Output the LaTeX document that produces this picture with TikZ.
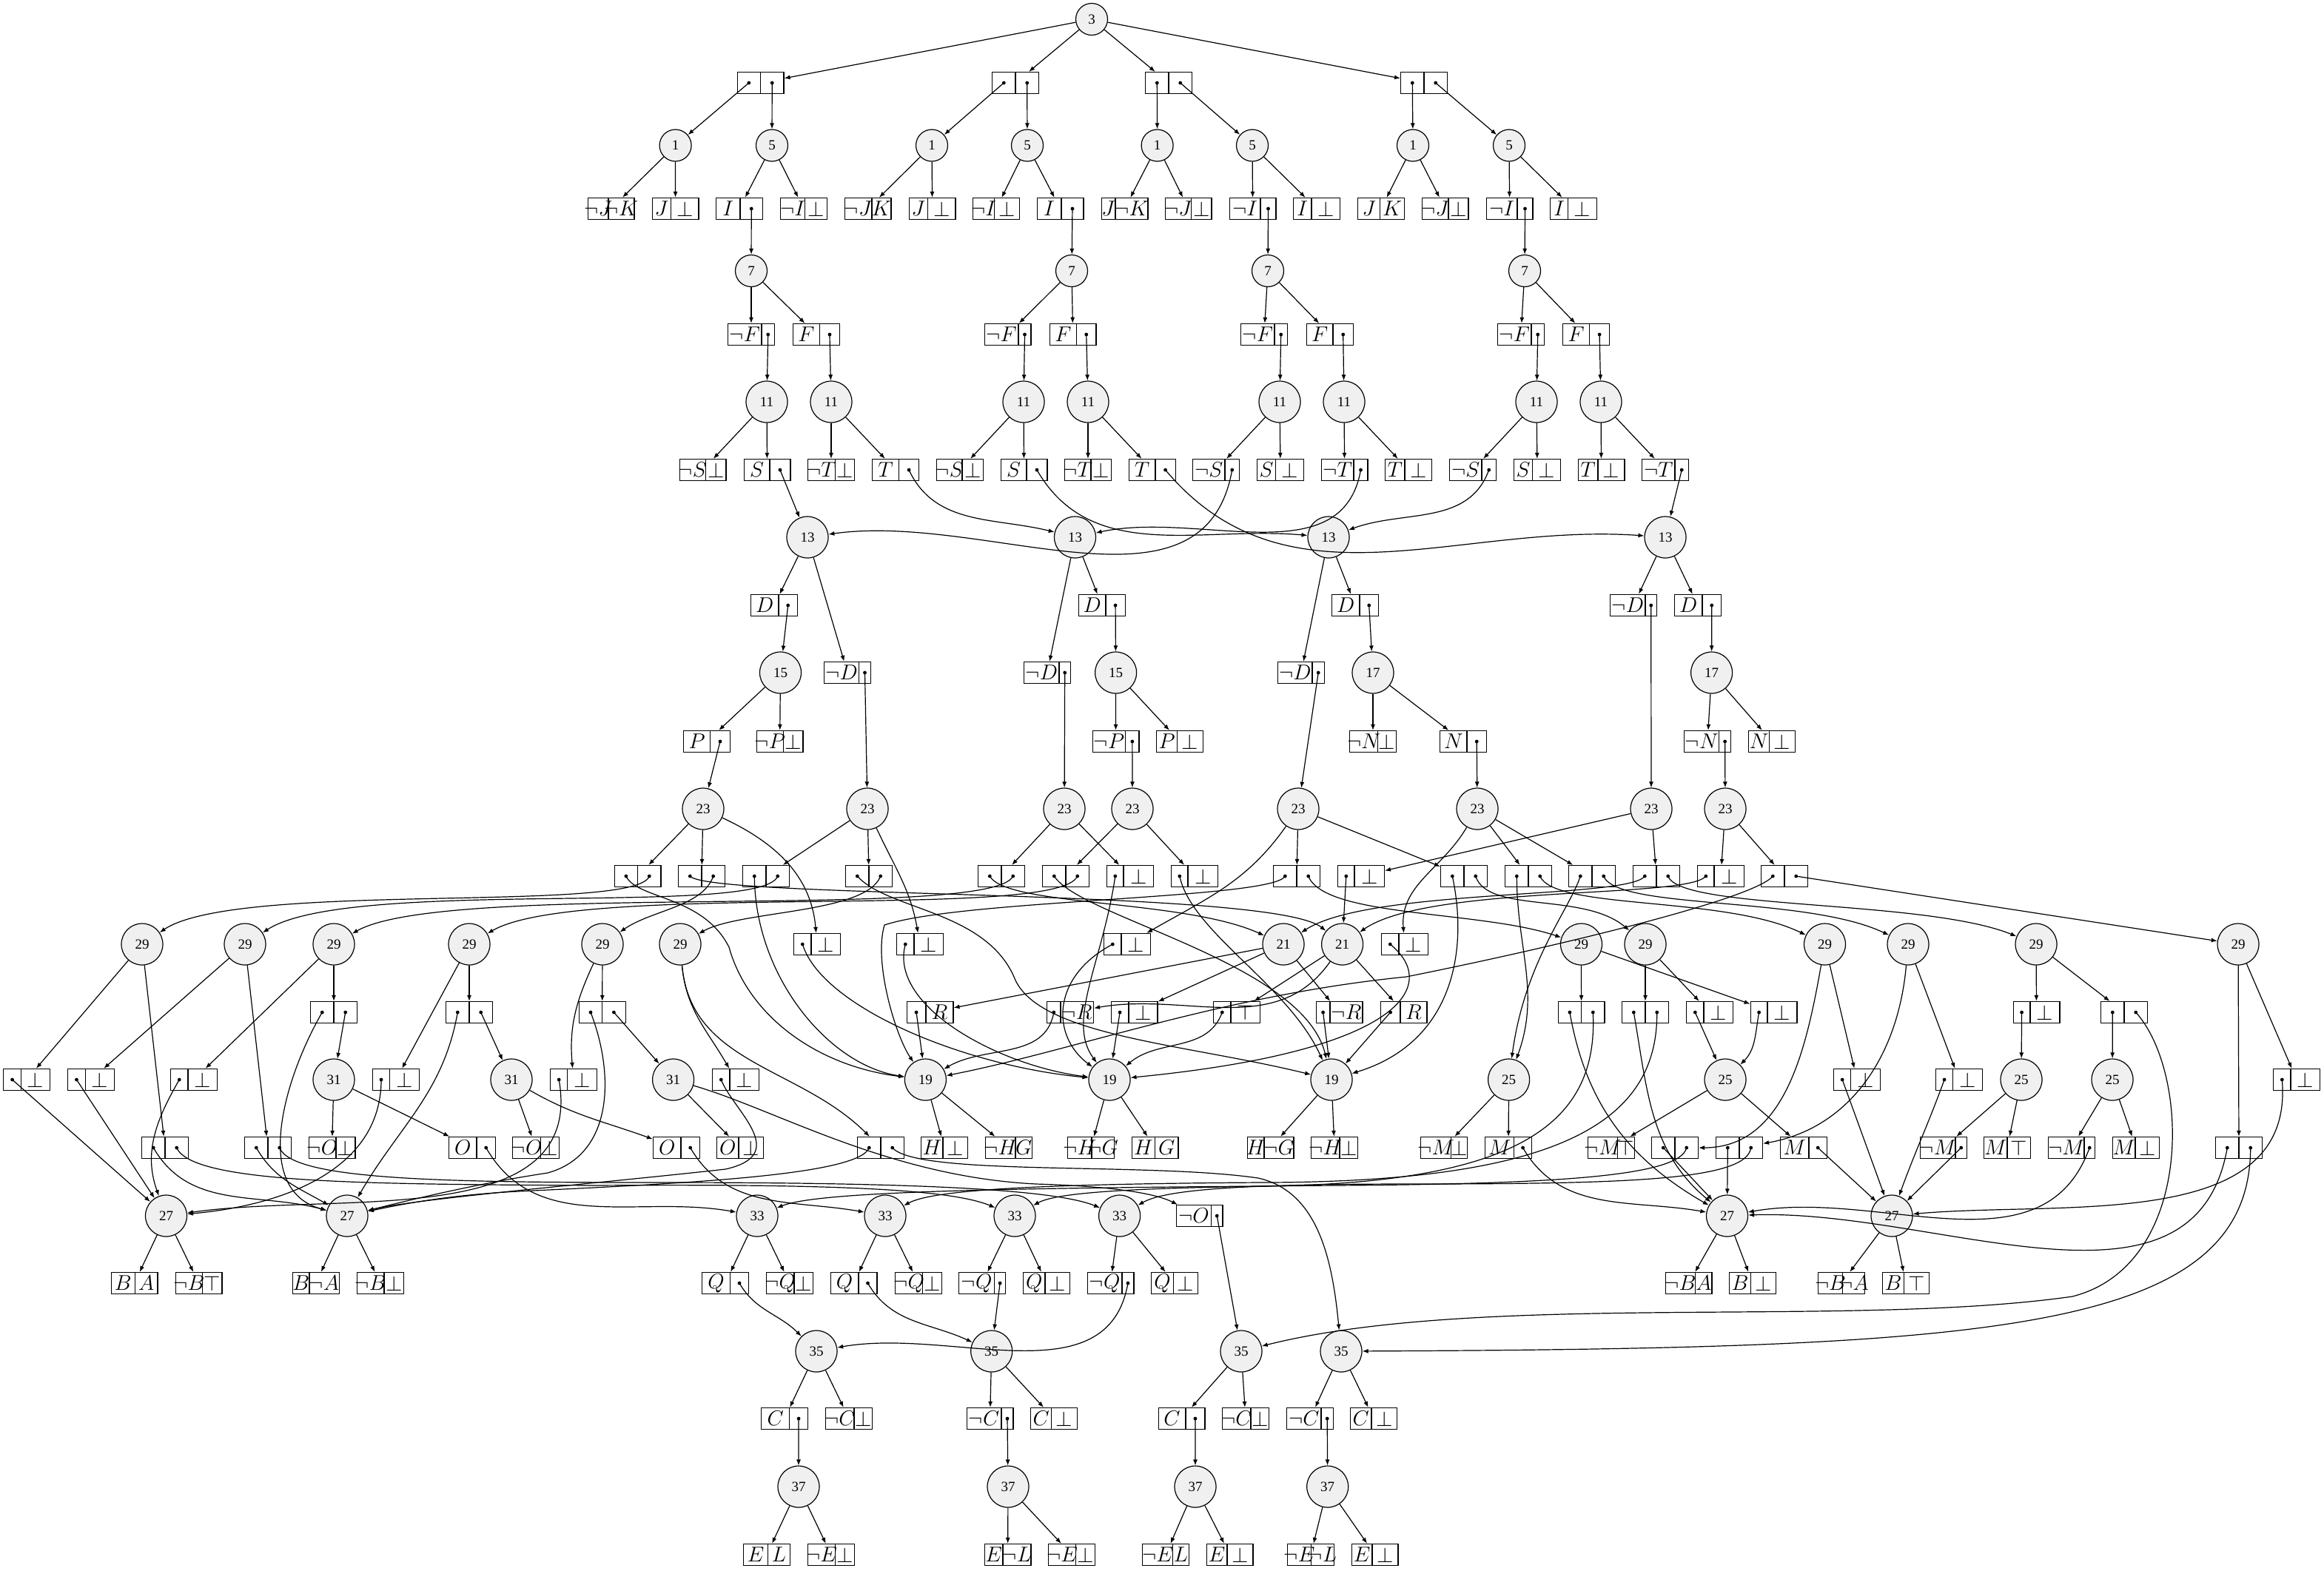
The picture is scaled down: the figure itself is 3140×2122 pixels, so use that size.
\documentclass[tikz,border=0pt]{standalone}
\usepackage{fontspec}
\setmainfont{Liberation Serif}
\usepackage{tikz}
\usetikzlibrary{arrows.meta}
\definecolor{nodegrey}{rgb}{0.94,0.94,0.94}
\newcommand{\dt}{\tikz\fill (0,0) circle (1.2pt);}
% record box: name, x, y, divider x, left cell, right cell
\newcommand{\recbox}[6]{%
  \node[rec] (#1) at (#2,#3) {};
  \draw (#4,#3-14.5) -- (#4,#3+14.5);
  \coordinate (#1-l) at ({(#2-31.4+#4)/2},#3);
  \coordinate (#1-r) at ({(#4+#2+31.4)/2},#3);
  \node[lab] at (#1-l) {#5};
  \node[lab] at (#1-r) {#6};
}

\begin{document}
\begin{tikzpicture}[x=0.5pt, y=-0.5pt, line width=0.6pt,
    vnode/.style={circle, draw, fill=nodegrey, minimum size=21.5pt, inner sep=0pt, font=\fontsize{9.5}{10}\selectfont},
    wnode/.style={vnode, minimum size=28pt},
    rec/.style={rectangle, draw, minimum width=31.4pt, minimum height=14.5pt, inner sep=0pt},
    lab/.style={inner sep=0pt, font=\fontsize{14}{14}\selectfont},
    arrow/.style={-{Latex[length=4pt,width=3pt]}}
]
\useasboundingbox (0,0) rectangle (3140,2122);

\node[vnode] (n3) at (1475,26) {3};

\recbox{p1}{1027.5}{112}{1027.5}{\dt}{\dt}
\recbox{p2}{1372}{112}{1372}{\dt}{\dt}
\recbox{p3}{1579}{112}{1579}{\dt}{\dt}
\recbox{p4}{1924}{112}{1924}{\dt}{\dt}

\draw[arrow] (n3) -- (p1);
\draw[arrow] (n3) -- (p2);
\draw[arrow] (n3) -- (p3);
\draw[arrow] (n3) -- (p4);

\node[vnode] (v1a) at (912.6,196.5) {1};
\node[vnode] (v5a) at (1043,196.5) {5};
\node[vnode] (v1b) at (1259,196.5) {1};
\node[vnode] (v5b) at (1388,196.5) {5};
\node[vnode] (v1c) at (1563.6,196.5) {1};
\node[vnode] (v5c) at (1692,196.5) {5};
\node[vnode] (v1d) at (1909,196.5) {1};
\node[vnode] (v5d) at (2039,196.5) {5};

\draw[arrow] (p1-l) -- (v1a);
\draw[arrow] (p1-r) -- (v5a);
\draw[arrow] (p2-l) -- (v1b);
\draw[arrow] (p2-r) -- (v5b);
\draw[arrow] (p3-l) -- (v1c);
\draw[arrow] (p3-r) -- (v5c);
\draw[arrow] (p4-l) -- (v1d);
\draw[arrow] (p4-r) -- (v5d);

\recbox{a1}{825.6}{282}{822}{$\neg J$}{$\neg K$}
\recbox{a2}{912.5}{282}{906.5}{$J$}{$\bot$}
\recbox{a3}{999}{282}{1000}{$I$}{\dt}
\recbox{a4}{1086}{282}{1087.6}{$\neg I$}{$\bot$}
\recbox{a5}{1172.6}{282}{1178}{$\neg J$}{$K$}
\recbox{a6}{1259.6}{282}{1253.5}{$J$}{$\bot$}
\recbox{a7}{1346}{282}{1343.8}{$\neg I$}{$\bot$}
\recbox{a8}{1432.5}{282}{1434}{$I$}{\dt}
\recbox{a9}{1519.6}{282}{1507}{$J$}{$\neg K$}
\recbox{a10}{1605.6}{282}{1609.5}{$\neg J$}{$\bot$}
\recbox{a11}{1692.6}{282}{1703}{$\neg I$}{\dt}
\recbox{a12}{1779}{282}{1772}{$I$}{$\bot$}
\recbox{a13}{1866}{282}{1864.6}{$J$}{$K$}
\recbox{a14}{1952.6}{282}{1957}{$\neg J$}{$\bot$}
\recbox{a15}{2039.6}{282}{2050}{$\neg I$}{\dt}
\recbox{a16}{2126}{282}{2118.7}{$I$}{$\bot$}

\draw[arrow] (v1a) -- (a1);
\draw[arrow] (v1a) -- (a2);
\draw[arrow] (v5a) -- (a3);
\draw[arrow] (v5a) -- (a4);
\draw[arrow] (v1b) -- (a5);
\draw[arrow] (v1b) -- (a6);
\draw[arrow] (v5b) -- (a7);
\draw[arrow] (v5b) -- (a8);
\draw[arrow] (v1c) -- (a9);
\draw[arrow] (v1c) -- (a10);
\draw[arrow] (v5c) -- (a11);
\draw[arrow] (v5c) -- (a12);
\draw[arrow] (v1d) -- (a13);
\draw[arrow] (v1d) -- (a14);
\draw[arrow] (v5d) -- (a15);
\draw[arrow] (v5d) -- (a16);

\node[vnode] (v7a) at (1015,366) {7};
\node[vnode] (v7b) at (1448,366) {7};
\node[vnode] (v7c) at (1713,366) {7};
\node[vnode] (v7d) at (2060,366) {7};

\draw[arrow] (a3-r) -- (v7a);
\draw[arrow] (a8-r) -- (v7b);
\draw[arrow] (a11-r) -- (v7c);
\draw[arrow] (a15-r) -- (v7d);

\recbox{f1}{1015}{452}{1029}{$\neg F$}{\dt}
\recbox{f2}{1103}{452}{1107.5}{$F$}{\dt}
\recbox{f3}{1361.6}{452}{1376}{$\neg F$}{\dt}
\recbox{f4}{1449.6}{452}{1454.5}{$F$}{\dt}
\recbox{f5}{1708}{452}{1722}{$\neg F$}{\dt}
\recbox{f6}{1797}{452}{1801}{$F$}{\dt}
\recbox{f7}{2055}{452}{2069}{$\neg F$}{\dt}
\recbox{f8}{2143}{452}{2147.8}{$F$}{\dt}

\draw[arrow] (v7a) -- (f1);
\draw[arrow] (v7a) -- (f2);
\draw[arrow] (v7b) -- (f3);
\draw[arrow] (v7b) -- (f4);
\draw[arrow] (v7c) -- (f5);
\draw[arrow] (v7c) -- (f6);
\draw[arrow] (v7d) -- (f7);
\draw[arrow] (v7d) -- (f8);

\node[wnode] (v11a) at (1036,543) {11};
\node[wnode] (v11b) at (1123,543) {11};
\node[wnode] (v11c) at (1383,543) {11};
\node[wnode] (v11d) at (1470,543) {11};
\node[wnode] (v11e) at (1729,543) {11};
\node[wnode] (v11f) at (1816,543) {11};
\node[wnode] (v11g) at (2076,543) {11};
\node[wnode] (v11h) at (2163,543) {11};

\draw[arrow] (f1-r) -- (v11a);
\draw[arrow] (f2-r) -- (v11b);
\draw[arrow] (f3-r) -- (v11c);
\draw[arrow] (f4-r) -- (v11d);
\draw[arrow] (f5-r) -- (v11e);
\draw[arrow] (f6-r) -- (v11f);
\draw[arrow] (f7-r) -- (v11g);
\draw[arrow] (f8-r) -- (v11h);

\recbox{s1}{949.6}{635}{953.5}{$\neg S$}{$\bot$}
\recbox{s2}{1036.5}{635}{1040}{$S$}{\dt}
\recbox{s3}{1123}{635}{1128.5}{$\neg T$}{$\bot$}
\recbox{s4}{1210}{635}{1214.7}{$T$}{\dt}
\recbox{s5}{1297}{635}{1300}{$\neg S$}{$\bot$}
\recbox{s6}{1383.5}{635}{1387}{$S$}{\dt}
\recbox{s7}{1470}{635}{1474}{$\neg T$}{$\bot$}
\recbox{s8}{1556.7}{635}{1561}{$T$}{\dt}
\recbox{s9}{1643}{635}{1655}{$\neg S$}{\dt}
\recbox{s10}{1730}{635}{1723.8}{$S$}{$\bot$}
\recbox{s11}{1816.6}{635}{1829}{$\neg T$}{\dt}
\recbox{s12}{1903}{635}{1898}{$T$}{$\bot$}
\recbox{s13}{1990}{635}{2002}{$\neg S$}{\dt}
\recbox{s14}{2077}{635}{2070.7}{$S$}{$\bot$}
\recbox{s15}{2163.5}{635}{2159}{$T$}{$\bot$}
\recbox{s16}{2250}{635}{2263}{$\neg T$}{\dt}

\draw[arrow] (v11a) -- (s1);
\draw[arrow] (v11a) -- (s2);
\draw[arrow] (v11b) -- (s3);
\draw[arrow] (v11b) -- (s4);
\draw[arrow] (v11c) -- (s5);
\draw[arrow] (v11c) -- (s6);
\draw[arrow] (v11d) -- (s7);
\draw[arrow] (v11d) -- (s8);
\draw[arrow] (v11e) -- (s9);
\draw[arrow] (v11e) -- (s10);
\draw[arrow] (v11f) -- (s11);
\draw[arrow] (v11f) -- (s12);
\draw[arrow] (v11g) -- (s13);
\draw[arrow] (v11g) -- (s14);
\draw[arrow] (v11h) -- (s15);
\draw[arrow] (v11h) -- (s16);

\node[wnode] (v13a) at (1091,726) {13};
\node[wnode] (v13b) at (1452.5,726) {13};
\node[wnode] (v13c) at (1795,726) {13};
\node[wnode] (v13d) at (2250,726) {13};

\draw[arrow] (s2-r) -- (v13a);
\draw[arrow] (s9-r) to[out=-100, in=8] (v13a);
\draw[arrow] (s4-r) to[out=-65, in=166] (v13b);
\draw[arrow] (s11-r) to[out=-100, in=12] (v13b);
\draw[arrow] (s6-r) to[out=-60, in=175] (v13c);
\draw[arrow] (s13-r) to[out=-110, in=20] (v13c);
\draw[arrow] (s8-r) to[out=-50, in=176] (v13d);
\draw[arrow] (s16-r) -- (v13d);

\recbox{d1}{1046}{818}{1052}{$D$}{\dt}
\recbox{d2}{1145}{909}{1160.6}{$\neg D$}{\dt}
\recbox{d3}{1415}{909}{1431}{$\neg D$}{\dt}
\recbox{d4}{1488.7}{818}{1494}{$D$}{\dt}
\recbox{d5}{1758}{909}{1773}{$\neg D$}{\dt}
\recbox{d6}{1831}{818}{1837}{$D$}{\dt}
\recbox{d7}{2207}{818}{2223}{$\neg D$}{\dt}
\recbox{d8}{2294}{818}{2300}{$D$}{\dt}

\draw[arrow] (v13a) -- (d1);
\draw[arrow] (v13a) -- (d2);
\draw[arrow] (v13b) -- (d3);
\draw[arrow] (v13b) -- (d4);
\draw[arrow] (v13c) -- (d5);
\draw[arrow] (v13c) -- (d6);
\draw[arrow] (v13d) -- (d7);
\draw[arrow] (v13d) -- (d8);

\node[wnode] (v15a) at (1054.5,909) {15};
\node[wnode] (v15b) at (1507.6,909) {15};
\node[wnode] (v17a) at (1855,909) {17};
\node[wnode] (v17b) at (2312.6,909) {17};

\draw[arrow] (d1-r) -- (v15a);
\draw[arrow] (d4-r) -- (v15b);
\draw[arrow] (d6-r) -- (v17a);
\draw[arrow] (d8-r) -- (v17b);

\recbox{q1}{955}{1002}{959.6}{$P$}{\dt}
\recbox{q2}{1053.6}{1002}{1058.6}{$\neg P$}{$\bot$}
\recbox{q3}{1507.5}{1002}{1520.8}{$\neg P$}{\dt}
\recbox{q4}{1594}{1002}{1590.6}{$P$}{$\bot$}
\recbox{q5}{1855}{1002}{1861.5}{$\neg N$}{$\bot$}
\recbox{q6}{1977}{1002}{1982}{$N$}{\dt}
\recbox{q7}{2307}{1002}{2322.8}{$\neg N$}{\dt}
\recbox{q8}{2394}{1002}{2390.5}{$N$}{$\bot$}

\draw[arrow] (v15a) -- (q1);
\draw[arrow] (v15a) -- (q2);
\draw[arrow] (v15b) -- (q3);
\draw[arrow] (v15b) -- (q4);
\draw[arrow] (v17a) -- (q5);
\draw[arrow] (v17a) -- (q6);
\draw[arrow] (v17b) -- (q7);
\draw[arrow] (v17b) -- (q8);

\node[wnode] (v23a) at (950,1093) {23};
\node[wnode] (v23b) at (1172,1093) {23};
\node[wnode] (v23c) at (1438,1093) {23};
\node[wnode] (v23d) at (1530,1093) {23};
\node[wnode] (v23e) at (1754,1093) {23};
\node[wnode] (v23f) at (1996,1093) {23};
\node[wnode] (v23g) at (2231,1093) {23};
\node[wnode] (v23h) at (2331,1093) {23};

\draw[arrow] (q1-r) -- (v23a);
\draw[arrow] (d2-r) -- (v23b);
\draw[arrow] (d3-r) -- (v23c);
\draw[arrow] (q3-r) -- (v23d);
\draw[arrow] (d5-r) -- (v23e);
\draw[arrow] (q6-r) -- (v23f);
\draw[arrow] (d7-r) -- (v23g);
\draw[arrow] (q7-r) -- (v23h);

\recbox{c1}{861.6}{1184}{861.6}{\dt}{\dt}
\recbox{c2}{948}{1184}{948}{\dt}{\dt}
\recbox{c3}{1035}{1184}{1035}{\dt}{\dt}
\recbox{c4}{1174}{1184}{1174}{\dt}{\dt}
\recbox{c5}{1353}{1184}{1353}{\dt}{\dt}
\recbox{c6}{1440}{1184}{1440}{\dt}{\dt}
\recbox{c7}{1527}{1184}{1518}{\dt}{$\bot$}
\recbox{c8}{1614}{1184}{1605}{\dt}{$\bot$}
\recbox{c9}{1752}{1184}{1752}{\dt}{\dt}
\recbox{c10}{1839}{1184}{1830}{\dt}{$\bot$}
\recbox{c11}{1978}{1184}{1978}{\dt}{\dt}
\recbox{c12}{2065}{1184}{2065}{\dt}{\dt}
\recbox{c13}{2151}{1184}{2151}{\dt}{\dt}
\recbox{c14}{2238}{1184}{2238}{\dt}{\dt}
\recbox{c15}{2325}{1184}{2316}{\dt}{$\bot$}
\recbox{c16}{2411}{1184}{2411}{\dt}{\dt}

\node[wnode] (v29a) at (192,1276) {29};
\node[wnode] (v29b) at (331,1276) {29};
\node[wnode] (v29c) at (451,1276) {29};
\node[wnode] (v29d) at (634,1276) {29};
\node[wnode] (v29e) at (814,1276) {29};
\node[wnode] (v29f) at (919,1276) {29};
\recbox{e1}{1104}{1276}{1096}{\dt}{$\bot$}
\recbox{e2}{1243}{1276}{1235}{\dt}{$\bot$}
\recbox{e3}{1523}{1276}{1515}{\dt}{$\bot$}
\node[wnode] (v21a) at (1734,1276) {21};
\node[wnode] (v21b) at (1813.6,1276) {21};
\recbox{e4}{1898}{1276}{1890}{\dt}{$\bot$}
\node[wnode] (v29g) at (2136.5,1276) {29};
\node[wnode] (v29h) at (2223,1276) {29};
\node[wnode] (v29i) at (2465.5,1276) {29};
\node[wnode] (v29j) at (2578,1276) {29};
\node[wnode] (v29k) at (2751,1276) {29};
\node[wnode] (v29l) at (3024,1276) {29};

\draw[arrow] (v23a) -- (c1);
\draw[arrow] (v23a) -- (c2);
\draw[arrow] (v23a) to[out=-25, in=95] (e1);
\draw[arrow] (v23b) -- (c3);
\draw[arrow] (v23b) -- (c4);
\draw[arrow] (v23b) to[out=-65, in=100] (e2);
\draw[arrow] (v23c) -- (c5);
\draw[arrow] (v23c) -- (c7);
\draw[arrow] (v23d) -- (c6);
\draw[arrow] (v23d) -- (c8);
\draw[arrow] (v23e) -- (c9);
\draw[arrow] (v23e) -- (c11);
\draw[arrow] (v23e) to[out=-125, in=30] (e3);
\draw[arrow] (v23f) to[out=-120, in=95] (e4);
\draw[arrow] (v23f) -- (c12);
\draw[arrow] (v23f) -- (c13);
\draw[arrow] (v23g) -- (c10);
\draw[arrow] (v23g) -- (c14);
\draw[arrow] (v23h) -- (c15);
\draw[arrow] (v23h) -- (c16);

\draw[arrow] (c1-r) .. controls (860,1235) and (320,1190) .. (v29a);
\draw[arrow] (c3-r) .. controls (1030,1240) and (470,1185) .. (v29b);
\draw[arrow] (c5-r) .. controls (1340,1245) and (600,1190) .. (v29c);
\draw[arrow] (c6-r) .. controls (1430,1245) and (780,1190) .. (v29d);
\draw[arrow] (c2-r) .. controls (950,1225) and (880,1230) .. (v29e);
\draw[arrow] (c4-r) .. controls (1170,1235) and (1000,1230) .. (v29f);
\draw[arrow] (c9-r) .. controls (1790,1240) and (2000,1230) .. (v29g);
\draw[arrow] (c11-r) .. controls (2010,1235) and (2140,1205) .. (v29h);
\draw[arrow] (c12-r) .. controls (2100,1230) and (2330,1210) .. (v29i);
\draw[arrow] (c13-r) .. controls (2185,1230) and (2440,1210) .. (v29j);
\draw[arrow] (c14-r) .. controls (2270,1230) and (2600,1215) .. (v29k);
\draw[arrow] (c16-r) -- (v29l);

\draw[arrow] (c5-l) .. controls (1360,1225) and (1600,1215) .. (v21a);
\draw[arrow] (c14-l) .. controls (2200,1215) and (1850,1200) .. (v21a);
\draw[arrow] (c2-l) .. controls (960,1215) and (1720,1200) .. (v21b);
\draw[arrow] (c10-l) -- (v21b);
\draw[arrow] (c15-l) .. controls (2280,1215) and (1930,1195) .. (v21b);

\recbox{g1}{451}{1368}{451}{\dt}{\dt}
\recbox{g2}{634}{1368}{634}{\dt}{\dt}
\recbox{g3}{813.7}{1368}{813.7}{\dt}{\dt}
\recbox{g4}{1256.5}{1368}{1251}{\dt}{$R$}
\recbox{g5}{1446}{1368}{1433}{\dt}{$\neg R$}
\recbox{g6}{1532.6}{1368}{1525}{\dt}{$\bot$}
\recbox{g7}{1671}{1368}{1663}{\dt}{$\top$}
\recbox{g8}{1809.6}{1368}{1797}{\dt}{$\neg R$}
\recbox{g9}{1896.6}{1368}{1892}{\dt}{$R$}
\recbox{g10}{2136.6}{1368}{2136.6}{\dt}{\dt}
\recbox{g11}{2223}{1368}{2223}{\dt}{\dt}
\recbox{g12}{2310}{1368}{2302}{\dt}{$\bot$}
\recbox{g13}{2396.6}{1368}{2388}{\dt}{$\bot$}
\recbox{g14}{2751.5}{1368}{2743}{\dt}{$\bot$}
\recbox{g15}{2870}{1368}{2870}{\dt}{\dt}

\draw[arrow] (v21a) -- (g4);
\draw[arrow] (v21a) -- (g6);
\draw[arrow] (v21a) -- (g8);
\draw[arrow] (v21b) to[out=-125, in=10] (g5);
\draw[arrow] (v21b) -- (g7);
\draw[arrow] (v21b) -- (g9);

\recbox{h1}{36}{1459}{28.6}{\dt}{$\bot$}
\recbox{h2}{123}{1459}{115.3}{\dt}{$\bot$}
\recbox{h3}{262}{1459}{254}{\dt}{$\bot$}
\node[wnode] (v31a) at (451,1459) {31};
\recbox{h5}{535}{1459}{526.5}{\dt}{$\bot$}
\node[wnode] (v31b) at (691,1459) {31};
\recbox{h7}{775}{1459}{766.8}{\dt}{$\bot$}
\node[wnode] (v31c) at (909.6,1459) {31};
\recbox{h8}{994}{1459}{986}{\dt}{$\bot$}
\node[wnode] (v19a) at (1250.4,1459) {19};
\node[wnode] (v19b) at (1499,1459) {19};
\node[wnode] (v19c) at (1799,1459) {19};
\node[wnode] (v25a) at (2038.6,1459) {25};
\node[wnode] (v25b) at (2331,1459) {25};
\recbox{h9}{2509}{1459}{2500.7}{\dt}{$\bot$}
\recbox{h10}{2647}{1459}{2638.5}{\dt}{$\bot$}
\node[wnode] (v25c) at (2731,1459) {25};
\node[wnode] (v25d) at (2854,1459) {25};
\recbox{h11}{3103}{1459}{3095}{\dt}{$\bot$}

\draw[arrow] (c1-l) .. controls (860,1215) and (950,1210) .. (985,1280) .. controls (1010,1370) and (1100,1440) .. (v19a);
\draw[arrow] (c3-l) .. controls (1020,1320) and (1120,1440) .. (v19a);
\draw[arrow] (c9-l) .. controls (1720,1215) and (1300,1215) .. (1195,1250) .. controls (1180,1300) and (1210,1400) .. (v19a);
\draw[arrow] (c16-l) .. controls (2370,1215) and (2100,1280) .. (1900,1320) .. controls (1650,1345) and (1450,1420) .. (v19a);
\draw[arrow] (g4-l) -- (v19a);
\draw[arrow] (g5-l) to[out=-100, in=30] (v19a);
\draw[arrow] (e1-l) .. controls (1110,1360) and (1300,1440) .. (v19b);
\draw[arrow] (e2-l) .. controls (1200,1360) and (1350,1440) .. (v19b);
\draw[arrow] (e3-l) .. controls (1420,1320) and (1420,1400) .. (v19b);
\draw[arrow] (e4-l) .. controls (1945,1330) and (1900,1420) .. (v19b);
\draw[arrow] (c7-l) .. controls (1490,1300) and (1440,1380) .. (v19b);
\draw[arrow] (g6-l) -- (v19b);
\draw[arrow] (g7-l) to[out=-110, in=40] (v19b);
\draw[arrow] (c4-l) .. controls (1200,1230) and (1330,1230) .. (1370,1320) .. controls (1400,1400) and (1600,1410) .. (v19c);
\draw[arrow] (c6-l) .. controls (1460,1240) and (1760,1300) .. (v19c);
\draw[arrow] (c8-l) .. controls (1610,1260) and (1740,1330) .. (v19c);
\draw[arrow] (c11-l) .. controls (1985,1290) and (1960,1410) .. (v19c);
\draw[arrow] (g8-l) -- (v19c);
\draw[arrow] (g9-l) -- (v19c);
\draw[arrow] (c12-l) to[out=-90, in=70] (v25a);
\draw[arrow] (c13-l) .. controls (2120,1230) and (2060,1300) .. (v25a);

\draw[arrow] (v29a) -- (h1);
\draw[arrow] (v29b) -- (h2);
\draw[arrow] (v29c) -- (g1);
\draw[arrow] (v29c) -- (h3);
\draw[arrow] (v29d) -- (g2);
\draw[arrow] (v29d) -- (h5);
\draw[arrow] (v29e) -- (g3);
\draw[arrow] (v29e) to[out=-115, in=95] (h7);
\draw[arrow] (v29f) to[out=-85, in=120] (h8);
\draw[arrow] (v29g) -- (g10);
\draw[arrow] (v29g) -- (g13);
\draw[arrow] (v29h) -- (g11);
\draw[arrow] (v29h) -- (g12);
\draw[arrow] (v29i) -- (h9);
\draw[arrow] (v29j) -- (h10);
\draw[arrow] (v29k) -- (g14);
\draw[arrow] (v29k) -- (g15);
\draw[arrow] (v29l) -- (h11);

\draw[arrow] (g1-r) -- (v31a);
\draw[arrow] (g2-r) -- (v31b);
\draw[arrow] (g3-r) -- (v31c);
\draw[arrow] (g12-l) -- (v25b);
\draw[arrow] (g13-l) to[out=-100, in=45] (v25b);
\draw[arrow] (g14-l) -- (v25c);
\draw[arrow] (g15-l) -- (v25d);

\recbox{k1}{223}{1551}{223}{\dt}{\dt}
\recbox{k2}{362}{1551}{362}{\dt}{\dt}
\recbox{k3}{448.5}{1551}{454}{$\neg O$}{$\bot$}
\recbox{k4}{638}{1551}{644}{$O$}{\dt}
\recbox{k5}{724}{1551}{730.6}{$\neg O$}{$\bot$}
\recbox{k6}{914}{1551}{920}{$O$}{\dt}
\recbox{k7}{1000}{1551}{998}{$O$}{$\bot$}
\recbox{k8}{1190}{1551}{1190}{\dt}{\dt}
\recbox{k9}{1276}{1551}{1274}{$H$}{$\bot$}
\recbox{k10}{1363}{1551}{1372}{$\neg H$}{$G$}
\recbox{k11}{1474}{1551}{1475}{$\neg H$}{$\neg G$}
\recbox{k12}{1560.6}{1551}{1560.6}{$H$}{$G$}
\recbox{k13}{1716.6}{1551}{1708}{$H$}{$\neg G$}
\recbox{k14}{1803}{1551}{1810}{$\neg H$}{$\bot$}
\recbox{k15}{1951}{1551}{1960.5}{$\neg M$}{$\bot$}
\recbox{k16}{2038}{1551}{2045.7}{$M$}{\dt}
\recbox{k17}{2177}{1551}{2185.5}{$\neg M$}{$\top$}
\recbox{k18}{2263}{1551}{2263}{\dt}{\dt}
\recbox{k19}{2350}{1551}{2350}{\dt}{\dt}
\recbox{k20}{2437}{1551}{2444}{$M$}{\dt}
\recbox{k21}{2626}{1551}{2642}{$\neg M$}{\dt}
\recbox{k22}{2712}{1551}{2712}{$M$}{$\top$}
\recbox{k23}{2799}{1551}{2816}{$\neg M$}{\dt}
\recbox{k24}{2886}{1551}{2885}{$M$}{$\bot$}
\recbox{k25}{3025}{1551}{3025}{\dt}{\dt}

\draw[arrow] (v29a) -- (k1);
\draw[arrow] (v29b) -- (k2);
\draw[arrow] (v29f) to[out=-85, in=135] (k8);
\draw[arrow] (v29i) to[out=-100, in=0] (k18);
\draw[arrow] (v29j) to[out=-95, in=10] (k19);
\draw[arrow] (v29l) -- (k25);
\draw[arrow] (v31a) -- (k3);
\draw[arrow] (v31a) -- (k4);
\draw[arrow] (v31b) -- (k5);
\draw[arrow] (v31b) to[out=-30, in=160] (k6);
\draw[arrow] (v31c) -- (k7);
\draw[arrow] (v19a) -- (k9);
\draw[arrow] (v19a) -- (k10);
\draw[arrow] (v19b) -- (k11);
\draw[arrow] (v19b) -- (k12);
\draw[arrow] (v19c) -- (k13);
\draw[arrow] (v19c) -- (k14);
\draw[arrow] (v25a) -- (k15);
\draw[arrow] (v25a) -- (k16);
\draw[arrow] (v25b) -- (k17);
\draw[arrow] (v25b) -- (k20);
\draw[arrow] (v25c) -- (k21);
\draw[arrow] (v25c) -- (k22);
\draw[arrow] (v25d) -- (k23);
\draw[arrow] (v25d) -- (k24);

\node[wnode] (v27a) at (224.5,1643) {27};
\node[wnode] (v27b) at (469,1643) {27};
\node[wnode] (v33a) at (1023,1643) {33};
\node[wnode] (v33b) at (1196,1643) {33};
\node[wnode] (v33c) at (1371,1643) {33};
\node[wnode] (v33d) at (1512.6,1643) {33};
\recbox{m1}{1620.6}{1643}{1636.5}{$\neg O$}{\dt}
\node[wnode] (v27c) at (2333.5,1643) {27};
\node[wnode] (v27d) at (2556,1643) {27};

\draw[arrow] (v31c) .. controls (1050,1500) and (1200,1590) .. (1400,1600) .. controls (1500,1603) and (1560,1612) .. (m1);

\draw[arrow] (h1-l) -- (v27a);
\draw[arrow] (h2-l) -- (v27a);
\draw[arrow] (h3-l) to[out=-120, in=110] (v27a);
\draw[arrow] (h5-l) to[out=-90, in=5] (v27a);
\draw[arrow] (h7-l) to[out=-80, in=8] (v27a);
\draw[arrow] (g1-l) to[out=-120, in=165] (v27b);
\draw[arrow] (g2-l) to[out=-100, in=60] (v27b);
\draw[arrow] (g3-l) .. controls (830,1450) and (830,1560) .. (740,1585) .. controls (640,1600) and (540,1625) .. (v27b);
\draw[arrow] (h8-l) .. controls (990,1500) and (1070,1560) .. (980,1580) .. controls (800,1600) and (560,1620) .. (v27b);
\draw[arrow] (k8-l) .. controls (1160,1590) and (900,1600) .. (700,1610) .. controls (600,1615) and (530,1630) .. (v27b);
\draw[arrow] (k1-l) to[out=-60, in=165] (v27b);
\draw[arrow] (k2-l) to[out=-60, in=150] (v27b);
\draw[arrow] (k16-r) to[out=-60, in=170] (v27c);
\draw[arrow] (k18-l) -- (v27c);
\draw[arrow] (k19-l) -- (v27c);
\draw[arrow] (k23-r) to[out=-110, in=10] (v27c);
\draw[arrow] (k25-l) to[out=-100, in=2] (v27c);
\draw[arrow] (g10-l) to[out=-80, in=150] (v27c);
\draw[arrow] (g11-l) to[out=-80, in=140] (v27c);
\draw[arrow] (k20-r) -- (v27d);
\draw[arrow] (k21-r) -- (v27d);
\draw[arrow] (h9-l) -- (v27d);
\draw[arrow] (h10-l) to[out=-110, in=70] (v27d);
\draw[arrow] (h11-l) to[out=-85, in=5] (v27d);

\draw[arrow] (k4-r) to[out=-60, in=170] (v33a);
\draw[arrow] (g10-r) .. controls (2160,1520) and (2050,1600) .. (1700,1603) .. controls (1300,1606) and (1100,1612) .. (v33a);
\draw[arrow] (k6-r) to[out=-60, in=170] (v33b);
\draw[arrow] (g11-r) .. controls (2240,1520) and (2100,1598) .. (1700,1598) .. controls (1400,1600) and (1260,1608) .. (v33b);
\draw[arrow] (k1-r) .. controls (260,1600) and (500,1600) .. (800,1602) .. controls (1100,1600) and (1280,1605) .. (v33c);
\draw[arrow] (k18-r) .. controls (2270,1590) and (2100,1600) .. (1800,1602) .. controls (1550,1604) and (1430,1610) .. (v33c);
\draw[arrow] (k2-r) .. controls (395,1595) and (600,1598) .. (900,1598) .. controls (1200,1598) and (1420,1605) .. (v33d);
\draw[arrow] (k19-r) .. controls (2360,1595) and (2200,1600) .. (1900,1600) .. controls (1650,1600) and (1570,1610) .. (v33d);

\recbox{t1}{181.6}{1734}{182.6}{$B$}{$A$}
\recbox{t2}{268.6}{1734}{273.5}{$\neg B$}{$\top$}
\recbox{t3}{426.8}{1734}{418}{$B$}{$\neg A$}
\recbox{t4}{514}{1734}{519}{$\neg B$}{$\bot$}
\recbox{t5}{980}{1734}{986.6}{$Q$}{\dt}
\recbox{t6}{1067}{1734}{1073}{$\neg Q$}{$\bot$}
\recbox{t7}{1153.6}{1734}{1160}{$Q$}{\dt}
\recbox{t8}{1240.7}{1734}{1246.8}{$\neg Q$}{$\bot$}
\recbox{t9}{1327}{1734}{1343.8}{$\neg Q$}{\dt}
\recbox{t10}{1414}{1734}{1412}{$Q$}{$\bot$}
\recbox{t11}{1500.5}{1734}{1516}{$\neg Q$}{\dt}
\recbox{t12}{1587}{1734}{1585.5}{$Q$}{$\bot$}
\recbox{t13}{2281.6}{1734}{2290.6}{$\neg B$}{$A$}
\recbox{t14}{2368}{1734}{2365.5}{$B$}{$\bot$}
\recbox{t15}{2488}{1734}{2489.5}{$\neg B$}{$\neg A$}
\recbox{t16}{2575}{1734}{2572.6}{$B$}{$\top$}

\draw[arrow] (v27a) -- (t1);
\draw[arrow] (v27a) -- (t2);
\draw[arrow] (v27b) -- (t3);
\draw[arrow] (v27b) -- (t4);
\draw[arrow] (v33a) -- (t5);
\draw[arrow] (v33a) -- (t6);
\draw[arrow] (v33b) -- (t7);
\draw[arrow] (v33b) -- (t8);
\draw[arrow] (v33c) -- (t9);
\draw[arrow] (v33c) -- (t10);
\draw[arrow] (v33d) -- (t11);
\draw[arrow] (v33d) -- (t12);
\draw[arrow] (v27c) -- (t13);
\draw[arrow] (v27c) -- (t14);
\draw[arrow] (v27d) -- (t15);
\draw[arrow] (v27d) -- (t16);

\node[wnode] (v35a) at (1103,1826) {35};
\node[wnode] (v35b) at (1339.7,1826) {35};
\node[wnode] (v35c) at (1677,1826) {35};
\node[wnode] (v35d) at (1812,1826) {35};

\draw[arrow] (t5-r) to[out=-60, in=135] (v35a);
\draw[arrow] (t11-r) to[out=-100, in=10] (v35a);
\draw[arrow] (t7-r) to[out=-60, in=155] (v35b);
\draw[arrow] (t9-r) -- (v35b);
\draw[arrow] (m1-r) -- (v35c);
\draw[arrow] (g15-r) .. controls (2960,1450) and (2965,1710) .. (2800,1752) .. controls (2500,1795) and (2000,1745) .. (v35c);
\draw[arrow] (k25-r) .. controls (3040,1800) and (2700,1822) .. (v35d);
\draw[arrow] (k8-r) .. controls (1240,1590) and (1550,1570) .. (1700,1592) .. controls (1780,1610) and (1800,1700) .. (v35d);

\recbox{u1}{1060}{1917}{1066.7}{$C$}{\dt}
\recbox{u2}{1147}{1917}{1154}{$\neg C$}{$\bot$}
\recbox{u3}{1337.6}{1917}{1353}{$\neg C$}{\dt}
\recbox{u4}{1424}{1917}{1420.8}{$C$}{$\bot$}
\recbox{u5}{1596.5}{1917}{1602}{$C$}{\dt}
\recbox{u6}{1683}{1917}{1690}{$\neg C$}{$\bot$}
\recbox{u7}{1770}{1917}{1785}{$\neg C$}{\dt}
\recbox{u8}{1856}{1917}{1853}{$C$}{$\bot$}

\draw[arrow] (v35a) -- (u1);
\draw[arrow] (v35a) -- (u2);
\draw[arrow] (v35b) -- (u3);
\draw[arrow] (v35b) -- (u4);
\draw[arrow] (v35c) -- (u5);
\draw[arrow] (v35c) -- (u6);
\draw[arrow] (v35d) -- (u7);
\draw[arrow] (v35d) -- (u8);

\node[wnode] (v37a) at (1079,2009) {37};
\node[wnode] (v37b) at (1362,2009) {37};
\node[wnode] (v37c) at (1615,2009) {37};
\node[wnode] (v37d) at (1793.7,2009) {37};

\draw[arrow] (u1-r) -- (v37a);
\draw[arrow] (u3-r) -- (v37b);
\draw[arrow] (u5-r) -- (v37c);
\draw[arrow] (u7-r) -- (v37d);

\recbox{w1}{1036}{2101}{1037.6}{$E$}{$L$}
\recbox{w2}{1123}{2101}{1128.5}{$\neg E$}{$\bot$}
\recbox{w3}{1361.6}{2101}{1355}{$E$}{$\neg L$}
\recbox{w4}{1448}{2101}{1453.5}{$\neg E$}{$\bot$}
\recbox{w5}{1575}{2101}{1584.5}{$\neg E$}{$L$}
\recbox{w6}{1661.6}{2101}{1658}{$E$}{$\bot$}
\recbox{w7}{1771}{2101}{1771.7}{$\neg E$}{$\neg L$}
\recbox{w8}{1857.6}{2101}{1854}{$E$}{$\bot$}

\draw[arrow] (v37a) -- (w1);
\draw[arrow] (v37a) -- (w2);
\draw[arrow] (v37b) -- (w3);
\draw[arrow] (v37b) -- (w4);
\draw[arrow] (v37c) -- (w5);
\draw[arrow] (v37c) -- (w6);
\draw[arrow] (v37d) -- (w7);
\draw[arrow] (v37d) -- (w8);

\end{tikzpicture}
\end{document}
